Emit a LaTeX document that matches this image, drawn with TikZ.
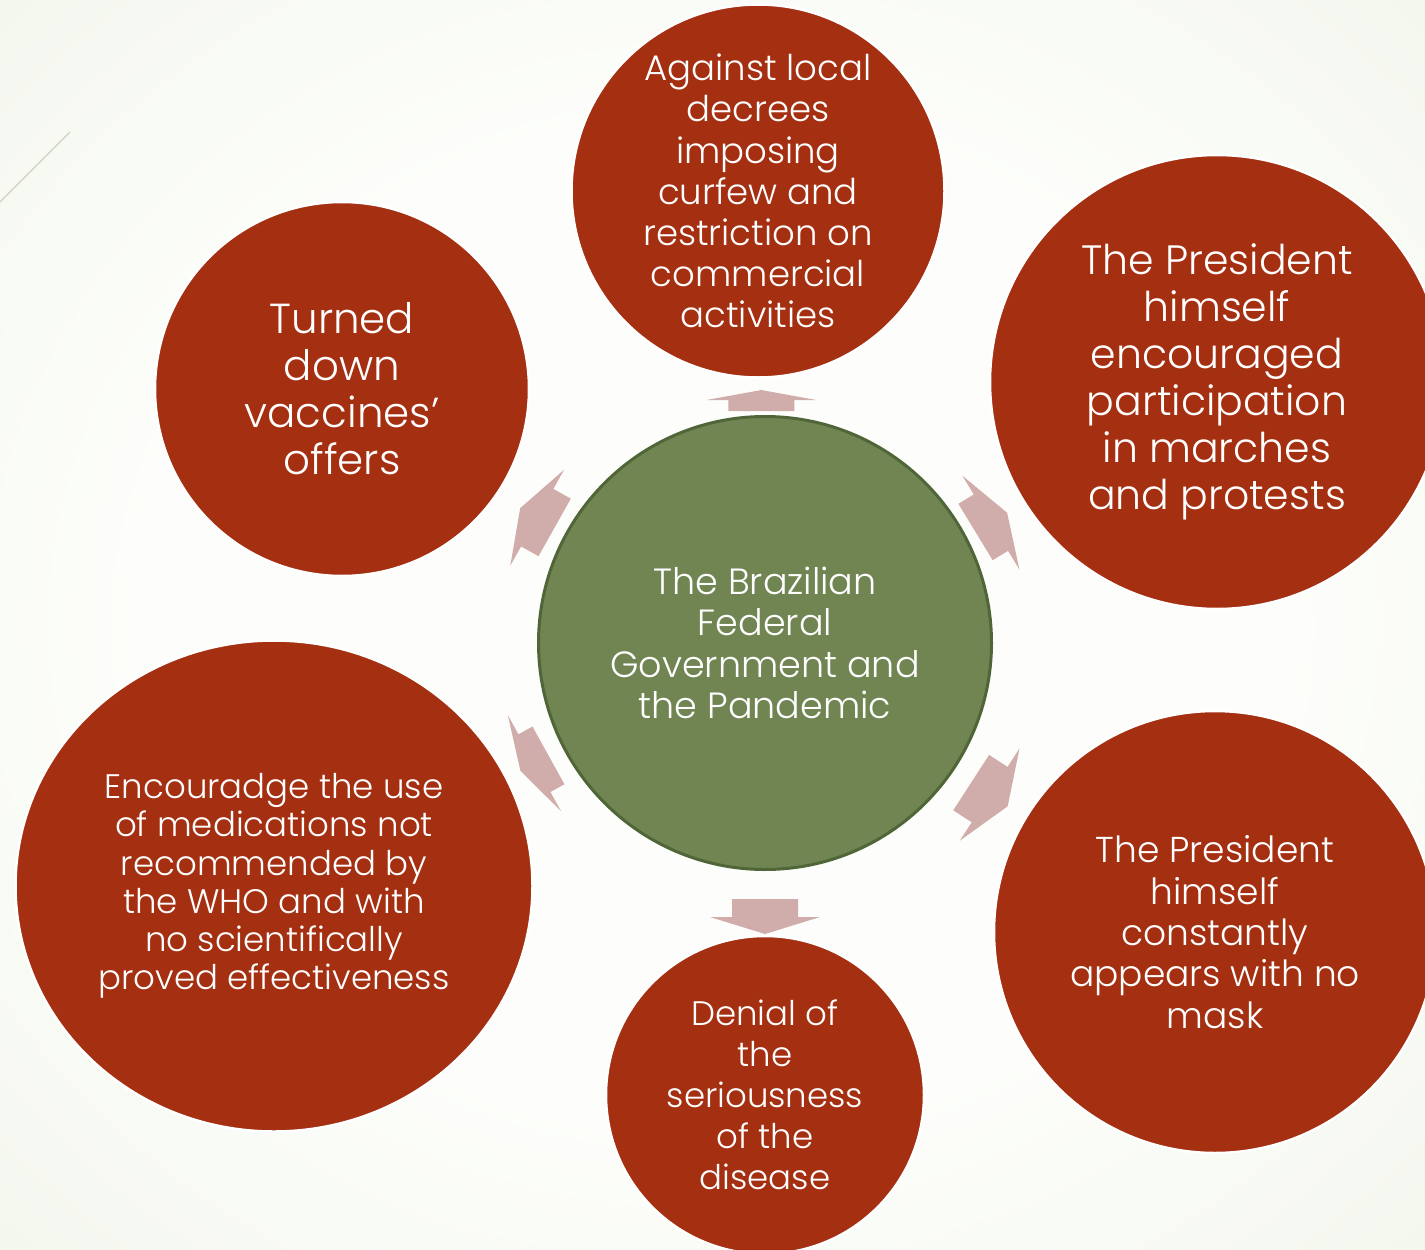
\documentclass[tikz,border=0pt]{standalone}
\usepackage{fontspec}
\setmainfont{Poppins Light}[Ligatures=CommonOff]
\usetikzlibrary{calc,shapes.geometric}

\definecolor{ballred}{HTML}{A52F11}
\definecolor{hubgreen}{HTML}{718553}
\definecolor{hubedge}{HTML}{506638}
\definecolor{spokepink}{HTML}{D0ADAA}
\definecolor{bgwhite}{HTML}{FDFEFB}
\definecolor{bgmid}{HTML}{F1F5EA}
\definecolor{bggreen}{HTML}{E5ECD4}
\definecolor{hairline}{HTML}{CDD1C3}

\pgfdeclareradialshading{backdrop}{\pgfpoint{0bp}{0bp}}{%
  color(0bp)=(bgwhite); color(20bp)=(bgwhite); color(40bp)=(bgmid);
  color(58bp)=(bggreen); color(75bp)=(bggreen)}

% block arrow pointing away from the hub towards an outer circle
% #1 target node, #2 distance of the arrow base from the hub centre,
% #3 angular offset of the base, #4 arrow direction, #5 shaft length, #6 head length
\newcommand\spoke[6]{%
  \begin{scope}[shift={($(hub.center)!#2!#3:(#1.center)$)}, rotate=#4]
    \fill[spokefill] (0,-33) -- (#5,-33) -- (#5,-55) -- ({#5+#6},0)
      -- (#5,55) -- (#5,33) -- (0,33) -- cycle;
  \end{scope}}

\begin{document}
\begin{tikzpicture}[x=1pt, y=-1pt,
  ball/.style={circle, fill=ballred, draw=white, line width=2.5pt,
    inner sep=0pt, text=white, align=center},
  hubball/.style={circle, fill=hubgreen, draw=hubedge, line width=3pt,
    inner sep=0pt, text=white, align=center, minimum size=453pt,
    font=\fontsize{36.5}{41.3}\selectfont},
  spokefill/.style={fill=spokepink}]

\useasboundingbox (0,0) rectangle (1425,1250);
\clip (0,0) rectangle (1425,1250);
\shade[shading=backdrop] (0,0) rectangle (1425,1250);
\draw[hairline, line width=1.2pt] (0,202) -- (70,132);

\node[hubball] (hub) at (765,643)
  {The Brazilian\\Federal\\Government and\\the Pandemic};

\node[ball, minimum size=373pt, font=\fontsize{35.5}{41.2}\selectfont]
  (curfew) at (758,191)
  {Against local\\decrees\\imposing\\curfew and\\restriction on\\commercial\\activities};
\node[ball, minimum size=454pt, font=\fontsize{41}{47}\selectfont]
  (marches) at (1217,382)
  {The President\\himself\\encouraged\\participation\\in marches\\and protests};
\node[ball, minimum size=442pt, font=\fontsize{36}{41.3}\selectfont]
  (mask) at (1215,932)
  {The President\\himself\\constantly\\appears with no\\mask};
\node[ball, minimum size=318pt, font=\fontsize{34}{41}\selectfont]
  (denial) at (765,1095)
  {Denial of\\the\\seriousness\\of the\\disease};
\node[ball, ellipse, minimum width=517pt, minimum height=491pt,
  font=\fontsize{34}{38.2}\selectfont] (meds) at (274,886)
  {Encouradge the use\\of medications not\\recommended by\\the WHO and with\\no scientifically\\proved effectiveness};
\node[ball, minimum size=374pt, font=\fontsize{42}{47}\selectfont]
  (vaccines) at (342,389)
  {Turned\\down\\vaccines’\\offers};

\spoke{curfew}{232pt}{0}{90}{11}{10}
\spoke{vaccines}{240pt}{2.2}{150.7}{20}{19.5}
\spoke{marches}{238pt}{-2.2}{31.3}{18}{19}
\spoke{meds}{244pt}{1.1}{209}{16}{16}
\spoke{mask}{249pt}{-1.4}{-32.9}{22}{21.5}
\spoke{denial}{256pt}{0}{-90}{18}{17}
\end{tikzpicture}
\end{document}
